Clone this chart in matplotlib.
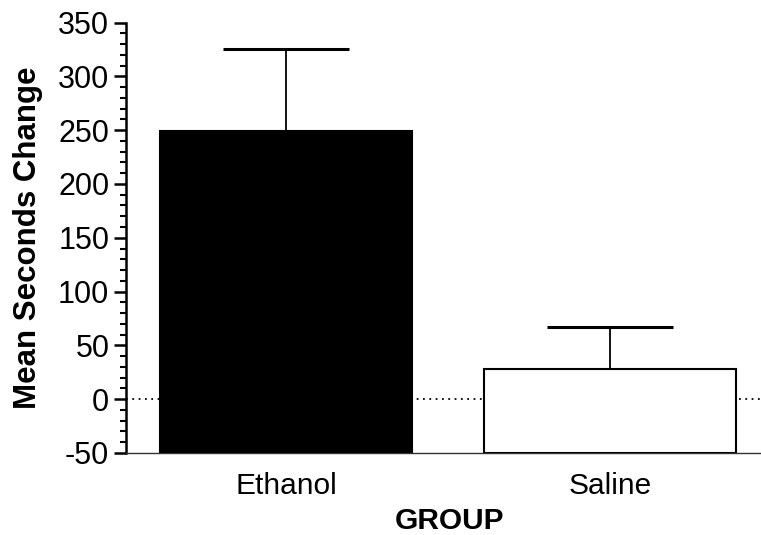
import numpy as np
from matplotlib import pyplot as plt
from matplotlib.ticker import MultipleLocator

groups = ['Ethanol', 'Saline']
means = [249, 28]
errors = [76, 39]
colors = ['black', 'white']

plt.rcParams['font.family'] = ['Liberation Sans', 'DejaVu Sans']
plt.rcParams['axes.unicode_minus'] = False

fig = plt.figure(figsize=(7.61, 5.35), dpi=100)
ax = fig.add_axes([126 / 761, 1 - 453 / 535, (760 - 126) / 761, (453 - 22.5) / 535])

x = np.arange(len(groups))
base = -50
ax.axhline(0, color='black', linestyle=(0, (1, 2.5)), linewidth=1.3, zorder=1)
ax.bar(x, np.array(means) - base, bottom=base, width=0.78, color=colors, edgecolor='black',
       linewidth=1.5, zorder=2)
ax.errorbar(x, means, yerr=[np.zeros(len(means)), errors], fmt='none', ecolor='black',
            elinewidth=1.3, capsize=0, zorder=3)
# caps half the bar width
ax.hlines(np.array(means) + np.array(errors), x - 0.195, x + 0.195, color='black', linewidth=2.2, zorder=3)

ax.set_xlim(-0.494, 1.463)
ax.set_ylim(-50, 350)
ax.yaxis.set_major_locator(MultipleLocator(50))
ax.yaxis.set_minor_locator(MultipleLocator(10))
ax.set_xticks(x)
ax.set_xticklabels(groups)

for side in ['top', 'right']:
    ax.spines[side].set_visible(False)
ax.spines['left'].set_linewidth(1.8)
ax.spines['bottom'].set_linewidth(1.0)
ax.spines['bottom'].set_color('#333333')
ax.tick_params(axis='y', which='major', length=9, width=1.8, labelsize=22, pad=3)
ax.tick_params(axis='y', which='minor', length=4.5, width=1.5)
ax.tick_params(axis='x', length=0, labelsize=21.5, pad=14)

ax.set_ylabel('Mean Seconds Change', fontsize=22.5, fontweight='bold', labelpad=11)
ax.set_xlabel('GROUP', fontsize=21.5, fontweight='bold')
ax.xaxis.set_label_coords(0.51, -0.125)

plt.savefig('out.png', dpi=100)
